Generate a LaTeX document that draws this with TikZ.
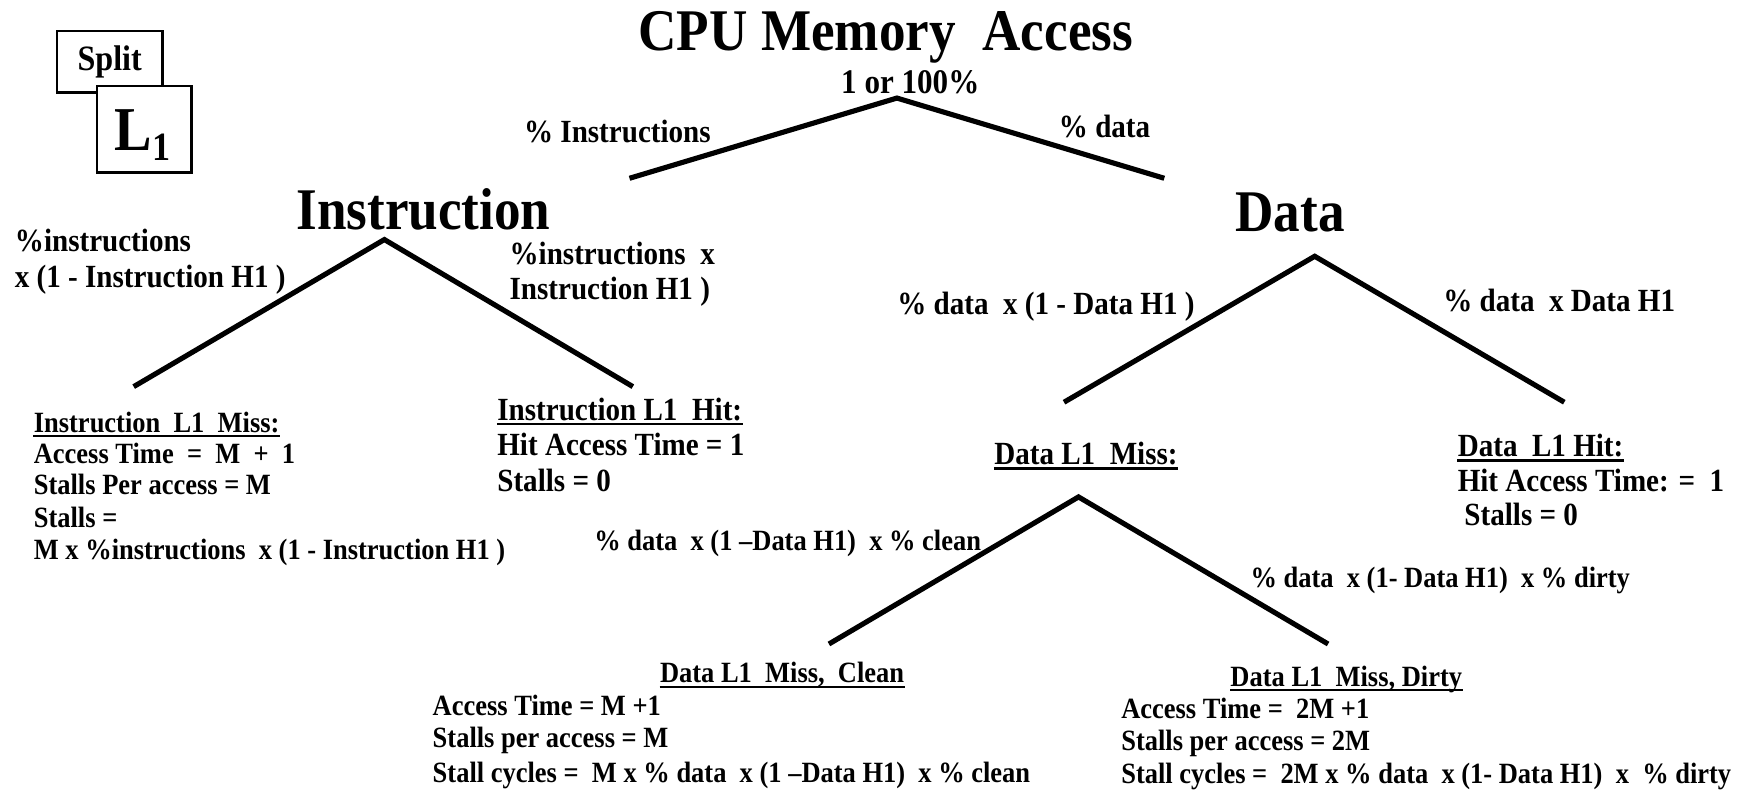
\documentclass[tikz,border=0pt]{standalone}
\usepackage{fontspec}
\setmainfont{Liberation Serif}[FakeStretch=0.9]
\begin{document}
\begin{tikzpicture}[x=0.5pt,y=-0.5pt,
  txt/.style={anchor=base west, inner sep=0pt, font=\bfseries\fontsize{13.2}{15}\selectfont},
  ltxt/.style={anchor=base west, inner sep=0pt, font=\bfseries\fontsize{14.5}{16}\selectfont},
  ctxt/.style={anchor=base, inner sep=0pt, font=\bfseries\fontsize{15.5}{17}\selectfont},
  big/.style={anchor=base, inner sep=0pt, font=\bfseries\fontsize{26.5}{30}\selectfont},
  branch/.style={line width=2.3pt, line join=miter},
  ul/.style={line width=1pt},
  box/.style={draw, line width=1.1pt, fill=white, inner sep=0pt}]
\useasboundingbox (0,0) rectangle (1568,709);

% boxes
\node[box, minimum width=47.5pt, minimum height=27.5pt] (split) at (98.5,55.5) {};
\node[inner sep=0pt, font=\bfseries\fontsize{16}{18}\selectfont] (splitt) at (98.5,56) {Split};
\node[box, minimum width=42.5pt, minimum height=39pt] (l1) at (129.5,116) {};
\node[anchor=base, inner sep=0pt, font=\bfseries] (l1t) at (128,135)
  {{\fontsize{28}{30}\selectfont L}\raisebox{-4.5pt}{\fontsize{18}{20}\selectfont 1}};

% headings
\node[big] (title) at (795,45) {CPU Memory~ Access};
\node[ctxt] (all) at (817,84) {1 or 100\%};
\node[big] (instr) at (380,206) {Instruction};
\node[big] (data) at (1158,208) {Data};

% tree coordinates
\coordinate (top) at (805,88);
\coordinate (tL) at (565,160);
\coordinate (tR) at (1045,160);
\coordinate (iA) at (345,215);
\coordinate (iL) at (120,347);
\coordinate (iR) at (568,347);
\coordinate (dA) at (1180,230);
\coordinate (dL) at (955,361);
\coordinate (dR) at (1404,361);
\coordinate (mA) at (968,446);
\coordinate (mL) at (744,578);
\coordinate (mR) at (1192,578);

\draw[branch] (tL) -- (top) -- (tR);
\draw[branch] (iL) -- (iA) -- (iR);
\draw[branch] (dL) -- (dA) -- (dR);
\draw[branch] (mL) -- (mA) -- (mR);

% branch labels
\node[ltxt] (pinstr) at (470,128) {\% Instructions};
\node[ltxt] (pdata) at (950,123) {\% data};
\node[ltxt] (lbl1a) at (13,226) {\%instructions};
\node[ltxt] (lbl1b) at (13,258) {x (1 - Instruction H1 )};
\node[ltxt] (lbl2a) at (457,237) {\%instructions~ x};
\node[ltxt] (lbl2b) at (457,269) {Instruction H1 )};
\node[ltxt] (lbl3) at (805,282) {\% data~ x (1 - Data H1 )};
\node[ltxt] (lbl4) at (1295,280) {\% data~ x Data H1};
\node[txt] (lbl5) at (533,494) {\% data~ x (1 –Data H1)~ x \% clean};
\node[txt] (lbl6) at (1122,527) {\% data~ x (1- Data H1)~ x \% dirty};

% Instruction L1 miss
\node[txt] (im0) at (30,388) {Instruction~ L1~ Miss:};
\node[txt] (im1) at (30,416) {Access Time~ =~ M~ +~ 1};
\node[txt] (im2) at (30,444) {Stalls Per access = M};
\node[txt] (im3) at (30,473) {Stalls =};
\node[txt] (im4) at (30,502) {M x \%instructions~ x (1 - Instruction H1 )};

% Instruction L1 hit
\node[ltxt] (ih0) at (446,377) {Instruction L1~ Hit:};
\node[ltxt] (ih1) at (446,409) {Hit Access Time = 1};
\node[ltxt] (ih2) at (446,441) {Stalls = 0};

% Data L1 miss
\node[ltxt] (dm0) at (892,417) {Data L1~ Miss:};

% Data L1 hit
\node[ltxt] (dh0) at (1308,410) {Data~ L1 Hit:};
\node[ltxt] (dh1) at (1308,441) {Hit Access Time: =~ 1};
\node[ltxt] (dh2) at (1314,472) {Stalls = 0};

% Data miss clean
\node[txt] (dc0) at (592,613) {Data L1~ Miss,~ Clean};
\node[txt] (dc1) at (388,642) {Access Time = M +1};
\node[txt] (dc2) at (388,671) {Stalls per access = M};
\node[txt] (dc3) at (388,702) {Stall cycles =~ M x \% data~ x (1 –Data H1)~ x \% clean};

% Data miss dirty
\node[txt] (dd0) at (1104,616) {Data L1~ Miss, Dirty};
\node[txt] (dd1) at (1006,645) {Access Time =~ 2M +1};
\node[txt] (dd2) at (1006,674) {Stalls per access = 2M};
\node[txt] (dd3) at (1006,703) {Stall cycles =~ 2M x \% data~ x (1- Data H1)~ x~ \% dirty};

% underlines
\foreach \n in {im0,ih0,dm0,dh0,dc0,dd0}
  \draw[ul] ([yshift=-1.7pt]\n.base west) -- ([yshift=-1.7pt]\n.base east);
\end{tikzpicture}
\end{document}
